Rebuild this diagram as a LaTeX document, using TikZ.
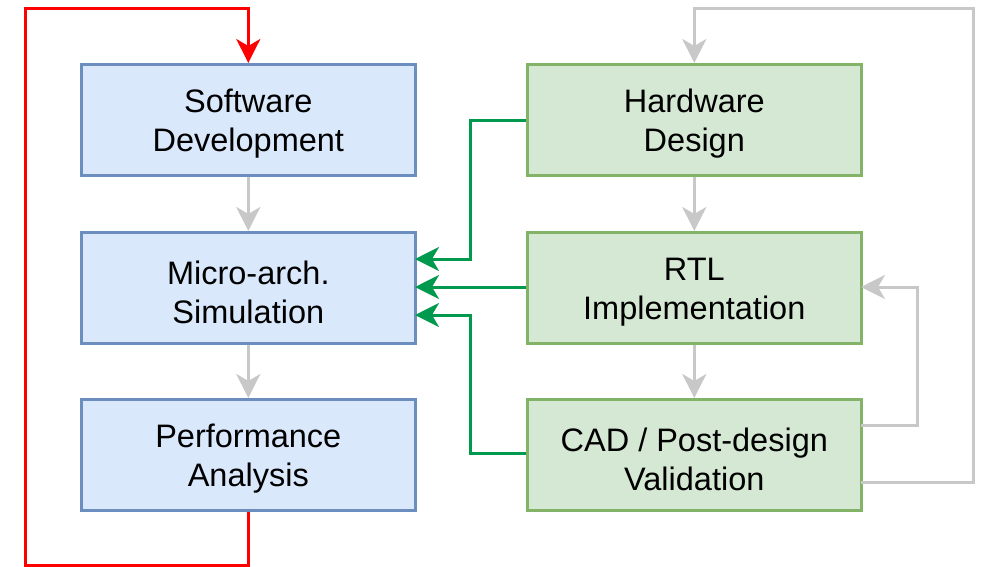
\documentclass[tikz,border=0pt]{standalone}
\usepackage{fontspec}
\setmainfont{Liberation Sans}
\usetikzlibrary{arrows.meta}
\definecolor{bfill}{HTML}{DAE8FC}
\definecolor{bdraw}{HTML}{6C8EBF}
\definecolor{gfill}{HTML}{D5E8D4}
\definecolor{gdraw}{HTML}{82B366}
\definecolor{gline}{HTML}{00994D}
\definecolor{grayline}{HTML}{C8C8C8}
\definecolor{redline}{HTML}{FF0000}
\newcommand{\topstrut}{\rule{0pt}{32pt}}
\begin{document}
\begin{tikzpicture}[x=1pt,y=-1pt,
  box/.style={draw, line width=2.6pt, minimum width=334pt, minimum height=111pt, inner sep=0pt, align=center, font=\fontsize{32.5}{39}\selectfont, anchor=north west},
  bluebox/.style={box, fill=bfill, draw=bdraw},
  greenbox/.style={box, fill=gfill, draw=gdraw},
  conn/.style={line width=3pt, -{Stealth[length=24pt,width=24pt,inset=7pt]}},
  grayconn/.style={conn, draw=grayline},
  greenconn/.style={conn, draw=gline},
  redconn/.style={conn, draw=redline}]
\useasboundingbox (0,0) rectangle (982,566);
\node[bluebox] (sw) at (80,63) {\topstrut Software\\Development};
\node[bluebox] (ma) at (80,231) {\topstrut Micro-arch.\\Simulation};
\node[bluebox] (pa) at (80,398) {\topstrut Performance\\Analysis};
\node[greenbox] (hw) at (526,63) {\topstrut Hardware\\Design};
\node[greenbox] (rtl) at (526,231) {\topstrut RTL\\Implementation};
\node[greenbox] (cad) at (526,398) {\topstrut CAD / Post-design\\Validation};
\coordinate (hwl) at (526,120);
\coordinate (cadl) at (526,453);
\coordinate (cadr1) at (861,425);
\coordinate (cadr2) at (861,482);
\coordinate (mai1) at (415,259);
\coordinate (mai2) at (415,287);
\coordinate (mai3) at (415,315);
\coordinate (rtlr) at (861,287);
\draw[grayconn] (sw.south) -- (ma.north);
\draw[grayconn] (ma.south) -- (pa.north);
\draw[grayconn] (hw.south) -- (rtl.north);
\draw[grayconn] (rtl.south) -- (cad.north);
\draw[redconn] (pa.south) -- ++(0,54) -| (25,8) -| (sw.north);
\draw[grayconn] (cadr2) -| (973,8) -| (hw.north);
\draw[grayconn] (cadr1) -| (917,287) -- (rtlr);
\draw[greenconn] (hwl) -| (470,259) -- (mai1);
\draw[greenconn] (rtl.west |- mai2) -- (mai2);
\draw[greenconn] (cadl) -| (470,315) -- (mai3);
\end{tikzpicture}
\end{document}
